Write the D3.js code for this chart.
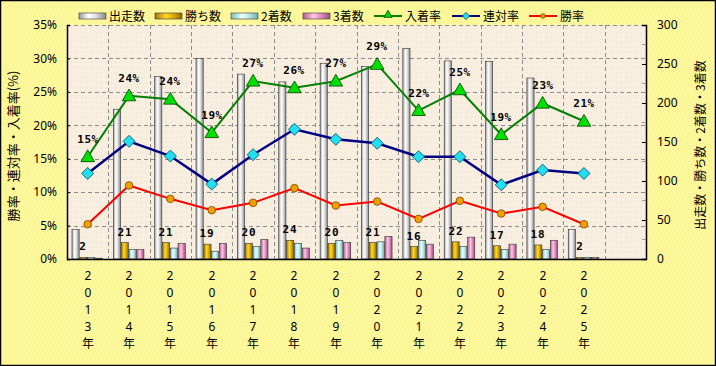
<!DOCTYPE html>
<html><head><meta charset="utf-8">
<script src="https://cdn.jsdelivr.net/npm/d3@7"></script>
<style>
html,body{margin:0;padding:0;background:#fff;}
svg{display:block;}
text{font-family:"Noto Sans CJK JP","DejaVu Sans",sans-serif;-webkit-font-smoothing:antialiased;}
</style></head><body>
<svg id="c" width="716" height="366"></svg>
<script>
const years = ["2013年","2014年","2015年","2016年","2017年","2018年","2019年","2020年","2021年","2022年","2023年","2024年","2025年"];
const starts = [38,192,234,257,237,227,251,247,270,254,253,232,38];
const wins   = [2,21,21,19,20,24,20,21,16,22,17,18,2];
const second = [2,12,14,10,16,20,24,22,24,16,12,12,2];
const third  = [1,12,20,20,25,14,21,29,19,28,19,24,2];
const placeRate = [15.3,24.4,23.9,18.9,26.6,25.6,26.6,29.1,22.2,25.3,18.6,23.3,20.6];
const rentaiRate = [12.8,17.6,15.4,11.2,15.6,19.4,17.9,17.3,15.3,15.3,11.1,13.3,12.8];
const winRate = [5.2,11.0,9.0,7.3,8.4,10.6,8.0,8.6,6.0,8.7,6.8,7.8,5.2];
const pctTicks = [0,5,10,15,20,25,30,35];
const cntTicks = [0,50,100,150,200,250,300];
const barKeys = ["出走数","勝ち数","2着数","3着数"];
const lineKeys = ["入着率","連対率","勝率"];
const leftTitle = "勝率・連対率・入着率(%)";
const rightTitle = "出走数・勝ち数・2着数・3着数";

const svg = d3.select("#c");
const W=716,H=366;
const L=67,R=646,T=25,B=259;

const defs = svg.append("defs");
const p1 = defs.append("pattern").attr("id","bgdots").attr("width",4).attr("height",4).attr("patternUnits","userSpaceOnUse");
p1.append("rect").attr("width",4).attr("height",4).attr("fill","#fff99c");
p1.append("rect").attr("x",1).attr("y",1).attr("width",1).attr("height",1).attr("fill","#eee68a");
p1.append("rect").attr("x",3).attr("y",3).attr("width",1).attr("height",1).attr("fill","#f5ee90");
const p2 = defs.append("pattern").attr("id","plotdots").attr("width",5).attr("height",5).attr("patternUnits","userSpaceOnUse");
p2.append("rect").attr("width",5).attr("height",5).attr("fill","#f8eedf");
p2.append("rect").attr("x",1).attr("y",2).attr("width",1).attr("height",1).attr("fill","#efe2cd");
p2.append("rect").attr("x",3).attr("y",4).attr("width",1).attr("height",1).attr("fill","#fbf5ea");

function grad(id, stops){
  const g = defs.append("linearGradient").attr("id",id).attr("x1","0").attr("x2","1").attr("y1","0").attr("y2","0");
  stops.forEach(s=>g.append("stop").attr("offset",s[0]).attr("stop-color",s[1]));
}
grad("g0",[[0,"#9a9a9a"],[0.35,"#ffffff"],[0.6,"#e4e4e4"],[1,"#8a8a8a"]]);
grad("g1",[[0,"#a07800"],[0.4,"#ffd830"],[0.65,"#e0b000"],[1,"#906800"]]);
grad("g2",[[0,"#7cbcbc"],[0.4,"#e8ffff"],[0.65,"#bfe8e8"],[1,"#70b0b0"]]);
grad("g3",[[0,"#b0608a"],[0.4,"#ffc8e8"],[0.65,"#e090c0"],[1,"#a05080"]]);
const barFills = ["url(#g0)","url(#g1)","url(#g2)","url(#g3)"];

svg.append("rect").attr("x",0).attr("y",0).attr("width",W).attr("height",H).attr("fill","url(#bgdots)");
svg.append("rect").attr("x",0.5).attr("y",0.5).attr("width",W-1).attr("height",H-1).attr("fill","none").attr("stroke","#000").attr("stroke-width",1.5);
svg.append("rect").attr("x",L).attr("y",T).attr("width",R-L).attr("height",B-T).attr("fill","url(#plotdots)");

const x0 = d3.scaleBand().domain(d3.range(14)).range([L,R]).paddingInner(0).paddingOuter(0);
const bw = x0.bandwidth();
const x1 = d3.scaleBand().domain(barKeys).range([bw*0.12,bw*0.86]).paddingInner(0.08);
const yL = d3.scaleLinear().domain([0,35]).range([B,T]);
const yR = d3.scaleLinear().domain([0,300]).range([B,T]);
const cx = i => x0(i)+bw/2;

const grid = svg.append("g").attr("stroke","#8c8c8c").attr("stroke-dasharray","4,3").attr("stroke-width",1);
pctTicks.filter(v=>v>0).forEach(v=>{
  grid.append("line").attr("x1",L).attr("x2",R).attr("y1",Math.round(yL(v))+0.5).attr("y2",Math.round(yL(v))+0.5);
});
d3.range(1,14).forEach(i=>{
  const xx=Math.round(x0(i))+0.5;
  grid.append("line").attr("x1",xx).attr("x2",xx).attr("y1",T).attr("y2",B);
});

const seriesBars=[starts,wins,second,third];
const bars = svg.append("g");
years.forEach((yr,i)=>{
  barKeys.forEach((k,j)=>{
    const v = seriesBars[j][i];
    bars.append("rect")
      .attr("x",x0(i)+x1(k)).attr("width",x1.bandwidth())
      .attr("y",yR(v)).attr("height",B-yR(v))
      .attr("fill",barFills[j]).attr("stroke","#333").attr("stroke-width",0.6);
  });
});

svg.append("line").attr("x1",L).attr("x2",R).attr("y1",B+0.5).attr("y2",B+0.5).attr("stroke","#000").attr("stroke-width",1.5);

const axL = d3.axisLeft(yL).tickValues(pctTicks).tickSize(-3).tickPadding(10).tickFormat(d=>d+"%");
const gL = svg.append("g").attr("transform",`translate(${L},0)`).call(axL);
const axR = d3.axisRight(yR).tickValues(cntTicks).tickSize(-4).tickPadding(11).tickFormat(d=>d);
const gR = svg.append("g").attr("transform",`translate(${R},0)`).call(axR);
[gL,gR].forEach(g=>{
  g.select(".domain").attr("stroke","#000").attr("stroke-width",1.5);
  g.selectAll(".tick line").attr("stroke","#000");
  g.selectAll("text").attr("font-size",12).attr("fill","#000").style("font-family","'Noto Sans','DejaVu Sans',sans-serif");
});
d3.range(25,300,50).forEach(v=>{
  svg.append("line").attr("x1",R-4).attr("x2",R).attr("y1",yR(v)).attr("y2",yR(v)).attr("stroke","#999");
});

const lineDefs = [
  {data:placeRate, color:"#008000", w:2, marker:"tri"},
  {data:rentaiRate, color:"#000080", w:2.5, marker:"dia"},
  {data:winRate, color:"#ff0000", w:2, marker:"cir"}
];
const lineGen = d3.line().x((d,i)=>cx(i)).y(d=>yL(d));
function drawMarker(g,type,x,y,s){
  s = s||1;
  if(type==="tri"){
    g.append("path").attr("d",d3.symbol(d3.symbolTriangle,80*s*s)()).attr("transform",`translate(${x},${y+1})`)
      .attr("fill","#00e000").attr("stroke","#004000").attr("stroke-width",0.8);
  } else if(type==="dia"){
    const r=6*s;
    g.append("path").attr("d",`M0,${-r}L${r},0L0,${r}L${-r},0Z`).attr("transform",`translate(${x},${y})`)
      .attr("fill","#20e0f0").attr("stroke","#004060").attr("stroke-width",0.8);
  } else {
    g.append("circle").attr("cx",x).attr("cy",y).attr("r",3.8*s).attr("fill","#f0a000").attr("stroke","#804000").attr("stroke-width",0.8);
  }
}
const lg = svg.append("g");
lineDefs.slice().reverse().forEach(ld=>{
  lg.append("path").datum(ld.data).attr("d",lineGen).attr("fill","none").attr("stroke",ld.color).attr("stroke-width",ld.w);
});
lineDefs.slice().reverse().forEach(ld=>{
  ld.data.forEach((v,i)=>drawMarker(lg,ld.marker,cx(i),yL(v)));
});

const lab = svg.append("g").attr("font-weight","bold").attr("font-size",11).attr("fill","#000").attr("text-anchor","middle");
placeRate.forEach((v,i)=>{
  lab.append("text").attr("x",Math.round(cx(i))).attr("y",Math.round(yL(v)-14)).text(Math.round(v)+"%")
    .style("font-family","'DejaVu Sans Mono','Liberation Mono',monospace").attr("letter-spacing","0.5");
});
wins.forEach((v,i)=>{
  lab.append("text").attr("x",Math.round(x0(i)+x1("勝ち数")+x1.bandwidth()/2)).attr("y",Math.round(yR(v)-7)).text(v)
    .style("font-family","'DejaVu Sans Mono','Liberation Mono',monospace").attr("letter-spacing","1");
});

const xl = svg.append("g").attr("font-size",12).attr("text-anchor","middle").attr("fill","#000");
const ys=[280,297,314,331,348];
years.forEach((yr,i)=>{
  yr.split("").forEach((ch,k)=>{
    xl.append("text").attr("x",Math.round(cx(i))).attr("y",ys[k]).text(ch)
      .style("font-family", /\d/.test(ch) ? "'Noto Sans','DejaVu Sans',sans-serif" : "'Noto Sans CJK JP',sans-serif");
  });
});

svg.append("text").attr("transform","translate(18,146) rotate(-90)").attr("text-anchor","middle").attr("font-size",13).attr("fill","#000").text(leftTitle);
svg.append("text").attr("transform","translate(705,145) rotate(-90)").attr("text-anchor","middle").attr("font-size",12).attr("fill","#000").text(rightTitle);

const leg = svg.append("g").attr("font-size",12).attr("fill","#000");
const legBarX=[79,155,231,303];
barKeys.forEach((k,j)=>{
  leg.append("rect").attr("x",legBarX[j]).attr("y",13).attr("width",27).attr("height",6).attr("fill",barFills[j]).attr("stroke","#333").attr("stroke-width",0.6);
  leg.append("text").attr("x",legBarX[j]+30).attr("y",21).text(k);
});
const legLineX=[374,452,529];
lineKeys.forEach((k,j)=>{
  const ld=lineDefs[j];
  leg.append("line").attr("x1",legLineX[j]).attr("x2",legLineX[j]+28).attr("y1",16).attr("y2",16).attr("stroke",ld.color).attr("stroke-width",2);
  drawMarker(leg,ld.marker,legLineX[j]+14,ld.marker==="tri"?14:16,0.6);
  leg.append("text").attr("x",legLineX[j]+31).attr("y",21).text(k);
});
</script></body></html>
